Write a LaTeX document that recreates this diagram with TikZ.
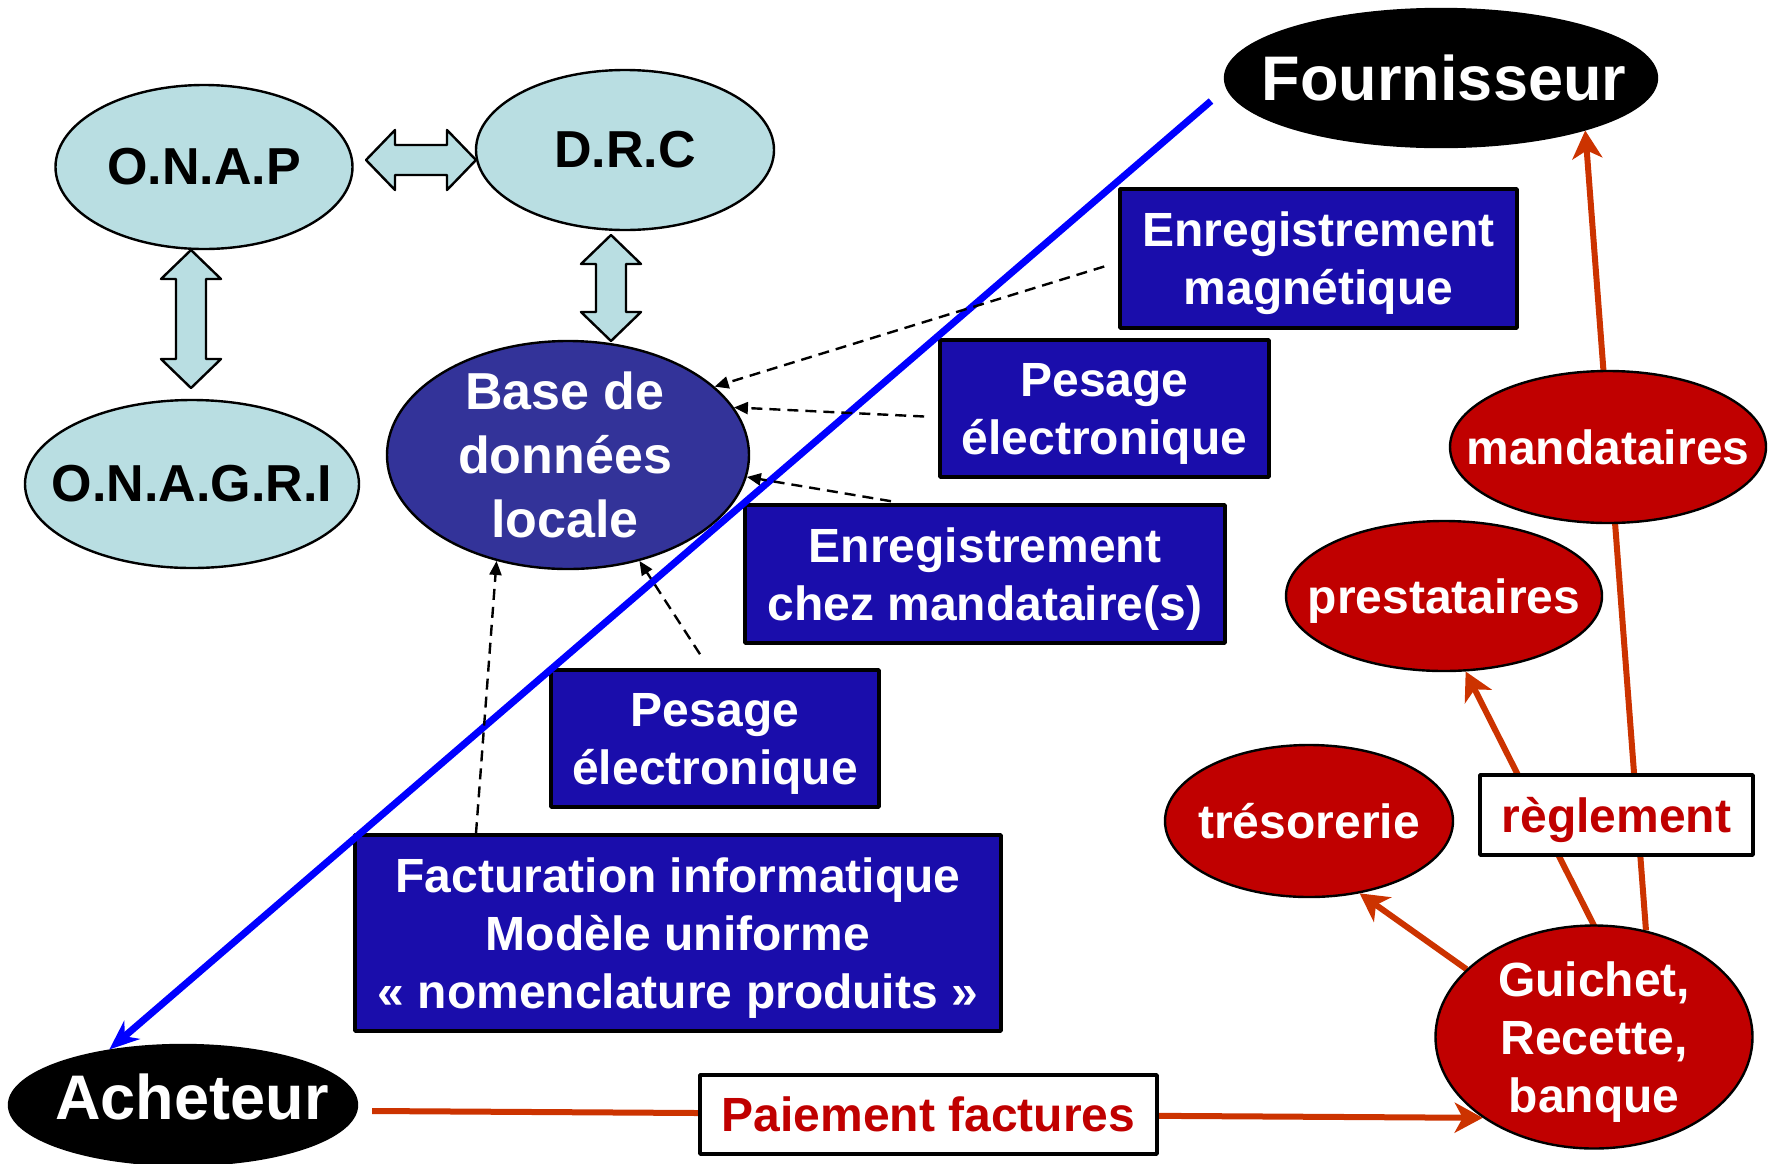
\documentclass[tikz,border=0pt]{standalone}
\usepackage{fontspec}
\setmainfont{Liberation Sans}
\usetikzlibrary{shapes.geometric,arrows.meta,backgrounds}
\definecolor{bleuclair}{RGB}{185,222,226}
\definecolor{bleubase}{RGB}{51,51,153}
\definecolor{bleuboite}{RGB}{26,13,171}
\definecolor{rougefonce}{RGB}{192,0,0}
\definecolor{rougefleche}{RGB}{204,51,0}
\begin{document}
\begin{tikzpicture}[x=0.5pt,y=-0.5pt,line join=round,
    ell/.style={ellipse,draw=black,line width=1.2pt,inner sep=0pt},
    clair/.style={ell,fill=bleuclair},
    noir/.style={ell,fill=black},
    rougeell/.style={ell,fill=rougefonce},
    boite/.style={draw=black,line width=1.8pt,fill=bleuboite,text=white,align=center,inner sep=2pt,
        text depth=0pt,font=\fontsize{24}{29}\selectfont\bfseries},
    blanche/.style={draw=black,line width=1.8pt,fill=white,text=rougefonce,inner sep=2pt,
        text depth=0pt,font=\fontsize{24}{29}\selectfont\bfseries},
    txtclair/.style={align=center,text=black,font=\fontsize{26}{32}\selectfont\bfseries},
    txtbase/.style={align=center,text=white,font=\fontsize{26}{32}\selectfont\bfseries},
    txtgros/.style={text=white,font=\fontsize{31.5}{38}\selectfont\bfseries},
    txtrouge/.style={align=center,text=white,text depth=0pt,font=\fontsize{24}{29}\selectfont\bfseries},
    pointille/.style={draw=black,line width=1.2pt,dash pattern=on 5.5pt off 3.5pt,-{Triangle[length=7pt,width=6pt]}},
    lienbleu/.style={draw=blue,line width=3.5pt,-{Stealth[length=15pt,width=12pt]}},
    lienrouge/.style={draw=rougefleche,line width=3pt,-{Stealth[length=14pt,width=15pt,inset=4pt]}},
    pics/dblfleche/.style={code={
        \draw[line width=1.2pt,fill=bleuclair] (-#1,0) -- (-#1+29,-30) -- (-#1+29,-15) -- (#1-29,-15)
            -- (#1-29,-30) -- (#1,0) -- (#1-29,30) -- (#1-29,15) -- (-#1+29,15) -- (-#1+29,30) -- cycle;}}]
    \useasboundingbox (0,0) rectangle (1777,1163);
    % organismes
    \node[clair,minimum width=148.5pt,minimum height=82pt,label={[txtclair]center:O.N.A.P}] (onap) at (204,167) {};
    \node[clair,minimum width=149pt,minimum height=80pt,label={[txtclair]center:D.R.C}] (drc) at (625,150) {};
    \node[clair,minimum width=167pt,minimum height=84pt,label={[txtclair]center:O.N.A.G.R.I}] (onagri) at (192,484) {};
    \node[ell,fill=bleubase,minimum width=181pt,minimum height=114pt,
        label={[txtbase,xshift=-1.5pt]center:{Base de\\donn\'ees\\locale}}] (base) at (568,455) {};
    \pic at (421,160) {dblfleche=55};
    \pic[rotate=90] at (191,319) {dblfleche=69};
    \pic[rotate=90] at (611,288) {dblfleche=53};
    % acteurs
    \node[noir,minimum width=216pt,minimum height=69pt,label={[txtgros,xshift=1.5pt]center:Fournisseur}] (fourn) at (1441,78) {};
    \node[noir,minimum width=174pt,minimum height=60pt,label={[txtgros,xshift=4.5pt,yshift=4pt]center:Acheteur}] (achet) at (183,1105) {};
    \coordinate (depart) at (1211,101);
    % saisies
    \node[boite,minimum width=198.5pt,minimum height=69.5pt] (enreg) at (1318.5,258.5) {Enregistrement\\magn\'etique};
    \node[boite,minimum width=164.5pt,minimum height=68.5pt] (pesage) at (1104.5,408.5) {Pesage\\\'electronique};
    \node[boite,minimum width=240pt,minimum height=69pt] (mandbox) at (985,574) {Enregistrement\\chez mandataire(s)};
    \node[boite,minimum width=164pt,minimum height=68.5pt] (pesagebis) at (715,738.5) {Pesage\\\'electronique};
    \node[boite,minimum width=323pt,minimum height=98pt] (factur) at (678,933) {Facturation informatique\\Mod\`ele uniforme\\\guillemotleft{} nomenclature produits \guillemotright};
    % paiement
    \node[rougeell,minimum width=158pt,minimum height=76pt,label={[txtrouge]center:mandataires}] (mandat) at (1608,447) {};
    \node[rougeell,minimum width=158pt,minimum height=75pt,label={[txtrouge]center:prestataires}] (prest) at (1444,596) {};
    \node[rougeell,minimum width=144pt,minimum height=76pt,label={[txtrouge]center:tr\'esorerie}] (treso) at (1309,821) {};
    \node[rougeell,minimum width=158.5pt,minimum height=111.5pt,
        label={[txtrouge]center:{Guichet,\\Recette,\\banque}}] (guichet) at (1594,1037) {};
    \node[blanche,minimum width=136.5pt,minimum height=40pt] (regl) at (1616.5,815) {r\`eglement};
    \node[blanche,minimum width=228.5pt,minimum height=39.5pt] (paie) at (928.5,1114.5) {Paiement factures};
    \begin{scope}[on background layer]
        \draw[lienrouge] (guichet.152) -- (treso.-55);
        \draw[lienrouge] ([xshift=4.5pt,yshift=-9.5pt]guichet.north) -- (prest.-74);
        \draw[lienrouge] (guichet.64) -- (fourn.-20);
        \draw[lienrouge] ([xshift=7pt,yshift=-3pt]achet.east) -- (guichet.216);
    \end{scope}
    \draw[lienbleu] (depart) -- (achet.143);
    \draw[pointille] ([xshift=-7pt,yshift=-4pt]enreg.west) -- (base.25);
    \draw[pointille] ([xshift=-7pt,yshift=-4pt]pesage.west) -- (base.16);
    \draw[pointille] ([xshift=-47pt,yshift=1pt]mandbox.north) -- (base.-7);
    \draw[pointille] ([xshift=-7.5pt,yshift=7pt]pesagebis.north) -- (base.-56);
    \draw[pointille] ([xshift=-101pt]factur.north) -- (base.-124);
\end{tikzpicture}
\end{document}
